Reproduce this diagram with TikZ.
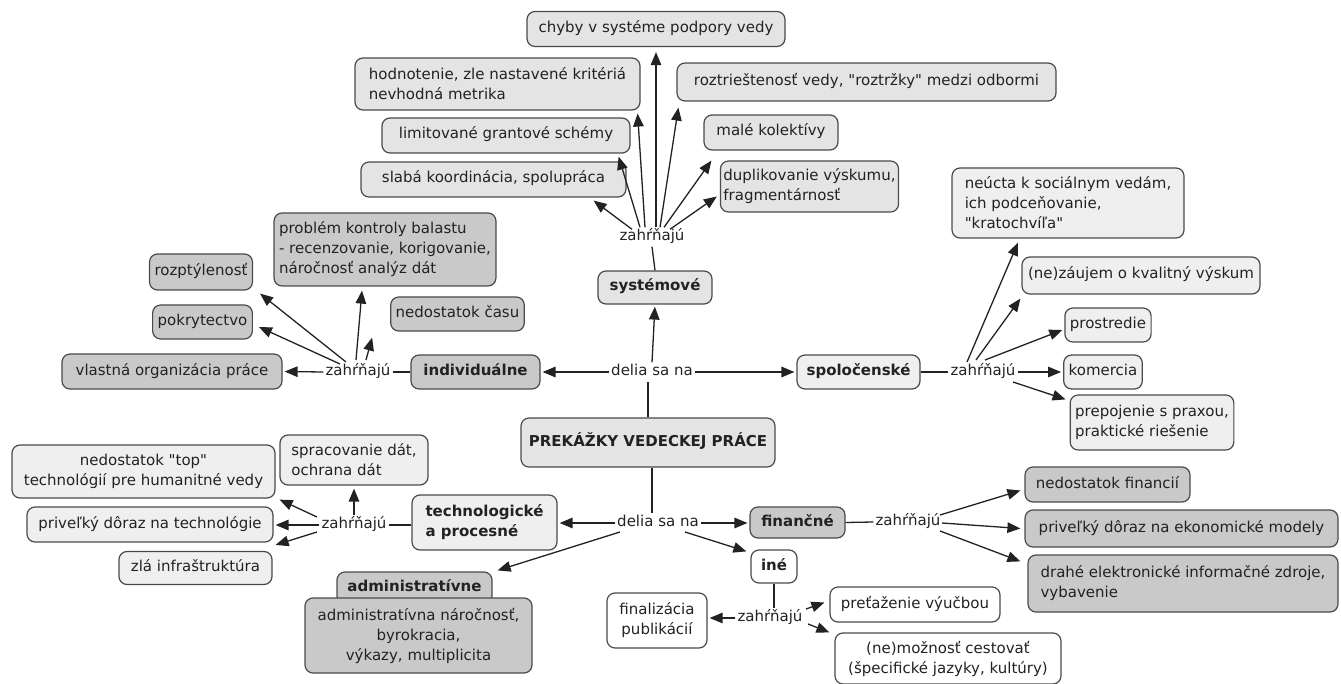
\documentclass[tikz,border=0pt]{standalone}
\usepackage{fontspec}
\setmainfont{DejaVu Sans}[Ligatures=TeXOff]
\usetikzlibrary{arrows.meta,calc}
\definecolor{dkfill}{HTML}{C9C9C9}
\definecolor{sysfill}{HTML}{E4E4E4}
\definecolor{ltfill}{HTML}{EFEFEF}
\definecolor{bord}{HTML}{4A4A4A}
\definecolor{lnc}{HTML}{222222}
\begin{document}
\begin{tikzpicture}[x=1pt,y=-1pt,
  box/.style={draw=bord,line width=1.2pt,rounded corners=8pt,inner xsep=5pt,inner ysep=4pt,
    font=\fontsize{15}{20}\selectfont,text=lnc,text height=11pt,text depth=4pt},
  ml/.style={text height=,text depth=},
  dk/.style={box,fill=dkfill},
  sy/.style={box,fill=sysfill},
  lt/.style={box,fill=ltfill},
  wh/.style={box,fill=white},
  bf/.style={font=\fontsize{15}{20}\selectfont\bfseries},
  lbl/.style={inner sep=2pt,font=\fontsize{15}{20}\selectfont,text=lnc,text height=11pt,text depth=4pt},
  conn/.style={draw=lnc,line width=1.3pt},
  arr/.style={conn,-{Triangle[length=13pt,width=10.5pt]}}
]
\useasboundingbox (0,0) rectangle (1341,684);

% ---------- systemove cluster ----------
\node[sy,minimum width=258pt,minimum height=35pt] (chy) at (656,29) {chyby v systéme podpory vedy};
\node[sy,ml,minimum width=285pt,minimum height=52pt,align=left] (hod) at (497.5,84) {hodnotenie, zle nastavené kritériá\\nevhodná metrika};
\node[sy,minimum width=379pt,minimum height=38pt] (roz) at (866.5,82) {roztrieštenosť vedy, "roztržky" medzi odbormi};
\node[sy,minimum width=248pt,minimum height=35pt] (lim) at (506,135.5) {limitované grantové schémy};
\node[sy,minimum width=134pt,minimum height=35pt] (mal) at (771,132.5) {malé kolektívy};
\node[sy,minimum width=265pt,minimum height=35pt] (sla) at (493.5,179.5) {slabá koordinácia, spolupráca};
\node[sy,ml,inner xsep=3pt,minimum width=173pt,minimum height=51pt,align=left] (dup) at (809.5,186.5) {duplikovanie výskumu,\\fragmentárnosť};
\node[lbl] (zs) at (652,237) {zahŕňajú};
\node[sy,bf,minimum width=114pt,minimum height=33pt] (sys) at (655,287.5) {systémové};

% ---------- center ----------
\node[lbl] (dt) at (652,372) {delia sa na};
\node[sy,bf,minimum width=254pt,minimum height=49pt] (pk) at (648,442.5) {PREKÁŽKY VEDECKEJ PRÁCE};
\node[lbl] (db) at (658,523) {delia sa na};

% ---------- individualne ----------
\node[dk,bf,minimum width=129pt,minimum height=34pt] (ind) at (475.5,372) {individuálne};
\node[lbl] (zi) at (358,372) {zahŕňajú};
\node[dk,minimum width=220pt,minimum height=35pt] (vla) at (172,371.5) {vlastná organizácia práce};
\node[dk,minimum width=95pt,minimum height=34pt] (pok) at (202.5,322) {pokrytectvo};
\node[dk,minimum width=98pt,minimum height=36pt] (rzp) at (201,272) {rozptýlenosť};
\node[dk,ml,minimum width=210pt,minimum height=73pt,align=left] (prb) at (385,249.5) {problém kontroly balastu\\- recenzovanie, korigovanie,\\náročnosť analýz dát};
\node[dk,minimum width=109pt,minimum height=34pt] (ndc) at (457.5,314) {nedostatok času};

% ---------- spolocenske ----------
\node[lt,bf,minimum width=123pt,minimum height=34pt] (spo) at (858.5,372) {spoločenské};
\node[lbl] (zsp) at (983,372) {zahŕňajú};
\node[lt,ml,minimum width=232pt,minimum height=70pt,align=left] (neu) at (1068,203) {neúcta k sociálnym vedám,\\ich podceňovanie,\\"kratochvíľa"};
\node[lt,minimum width=238pt,minimum height=37pt] (zau) at (1141,275.5) {(ne)záujem o kvalitný výskum};
\node[lt,minimum width=76pt,minimum height=34pt] (pro) at (1108,325) {prostredie};
\node[lt,minimum width=66pt,minimum height=34pt] (kom) at (1103,372) {komercia};
\node[lt,ml,minimum width=158pt,minimum height=55pt,align=left] (pre) at (1152,422.5) {prepojenie s praxou,\\praktické riešenie};

% ---------- technologicke ----------
\node[lt,bf,ml,minimum width=145pt,minimum height=55pt,align=left] (tec) at (484.5,522.5) {technologické\\a procesné};
\node[lbl] (zt) at (354,525) {zahŕňajú};
\node[lt,ml,minimum width=148pt,minimum height=50pt,align=left] (spr) at (354,460) {spracovanie dát,\\ochrana dát};
\node[lt,ml,minimum width=263pt,minimum height=53pt,align=center] (top) at (143.5,471.5) {nedostatok "top"\\technológií pre humanitné vedy};
\node[lt,minimum width=246pt,minimum height=35pt] (ptk) at (150,524.5) {priveľký dôraz na technológie};
\node[lt,minimum width=153pt,minimum height=33pt] (zla) at (195.5,568) {zlá infraštruktúra};

% ---------- administrativne ----------
\node[dk,bf,minimum width=155pt,minimum height=32pt] (admh) at (414.5,588) {administratívne};
\node[dk,ml,minimum width=227pt,minimum height=75pt,align=center] (adm) at (418.5,635.5) {administratívna náročnosť,\\byrokracia,\\výkazy, multiplicita};

% ---------- financne ----------
\node[dk,bf,minimum width=95pt,minimum height=31pt] (fin) at (797.5,522.5) {finančné};
\node[lbl] (zf) at (908,522) {zahŕňajú};
\node[dk,minimum width=165pt,minimum height=35pt] (nf) at (1107.5,484.5) {nedostatok financií};
\node[dk,minimum width=313pt,minimum height=37pt] (pe) at (1181.5,528.5) {priveľký dôraz na ekonomické modely};
\node[dk,ml,minimum width=310pt,minimum height=57pt,align=left] (dr) at (1183,583.5) {drahé elektronické informačné zdroje,\\vybavenie};

% ---------- ine ----------
\node[wh,bf,minimum width=46pt,minimum height=33pt] (ine) at (774,566.5) {iné};
\node[lbl] (zn) at (770,618) {zahŕňajú};
\node[wh,ml,minimum width=100pt,minimum height=55pt,align=center] (fp) at (657,620.5) {finalizácia\\publikácií};
\node[wh,minimum width=170pt,minimum height=35pt] (pv) at (915,604.5) {preťaženie výučbou};
\node[wh,ml,minimum width=226pt,minimum height=51pt,align=center] (nm) at (948,658.5) {(ne)možnosť cestovať\\(špecifické jazyky, kultúry)};

% ---------- connectors: center ----------
\draw[conn] (pk.north) -- (pk.north |- dt.south);
\draw[arr,shorten >=2pt] (dt.north) -- (sys.south);
\draw[arr,shorten >=2pt] (dt.west) -- (ind.east);
\draw[arr,shorten >=2pt] (dt.east) -- (spo.west);
\draw[conn] ($(pk.south)+(4,0)$) -- ($(pk.south |- db.north)+(4,0)$);
\draw[arr,shorten >=2pt] (db.west) -- (db.west -| tec.east);
\draw[arr,shorten >=2pt] (db.east) -- (db.east -| fin.west);
\draw[arr] ($(db)+(27,9)$) -- ($(ine.north west)+(-4,2)$);
\draw[arr] ($(db)+(-38,9)$) -- ($(admh.north east)+(5,-1)$);

% ---------- systemove fan ----------
\draw[conn] (sys.north) -- (zs.south);
\draw[arr] ($(zs.north)+(4,0)$) -- ($(chy.south)+(0,5)$);
\draw[arr] ($(zs.north)+(-7,0)$) -- ($(hod.south east)+(-3,3)$);
\draw[arr] ($(zs.north)+(8,0)$) -- ($(roz.south west)+(2,6)$);
\draw[arr] ($(zs.north)+(-12,0)$) -- ($(lim.south east)+(-12,3)$);
\draw[arr] ($(zs.north)+(12,0)$) -- ($(mal.south west)+(8,10)$);
\draw[arr] ($(zs.north)+(-20,2)$) -- ($(sla.south east)+(-33,3)$);
\draw[arr] ($(zs.north)+(18,2)$) -- ($(dup.west)+(-3,10)$);

% ---------- individualne fan ----------
\draw[conn] (ind.west) -- (zi.east);
\draw[arr,shorten >=2pt] (zi.west) -- (vla.east);
\draw[arr] ($(zi)+(-18,-8)$) -- ($(pok.east)+(6,5)$);
\draw[arr] ($(zi)+(-12,-10)$) -- ($(rzp.south east)+(7,3)$);
\draw[arr] ($(zi)+(-2,-12)$) -- ($(prb.south)+(-23,4)$);
\draw[arr] ($(zi)+(8,-12)$) -- ($(ndc.south west)+(-18,6)$);

% ---------- spolocenske fan ----------
\draw[conn] (spo.east) -- (zsp.west);
\draw[arr] ($(zsp)+(-16,-10)$) -- ($(neu.south)+(-50,4)$);
\draw[arr] ($(zsp)+(-7,-12)$) -- ($(zau.south west)+(-1,4)$);
\draw[arr] ($(zsp)+(2,-12)$) -- ($(pro.west)+(-2,5)$);
\draw[arr,shorten >=2pt] (zsp.east) -- (kom.west);
\draw[arr] ($(zsp)+(30,10)$) -- ($(pre.north west)+(-4,5)$);

% ---------- technologicke fan ----------
\draw[conn] (zt.east) -- (zt.east -| tec.west);
\draw[arr,shorten >=3pt] (zt.north) -- (zt.north |- spr.south);
\draw[arr] ($(zt)+(-37,-8)$) -- ($(top.south east)+(4,1)$);
\draw[arr,shorten >=2pt] (zt.west) -- (zt.west -| ptk.east);
\draw[arr] ($(zt)+(-37,7)$) -- ($(zla.north east)+(3,-6)$);

% ---------- financne fan ----------
\draw[conn] (fin.east) -- (zf.west);
\draw[arr] ($(zf)+(32,-7)$) -- ($(nf.west)+(-4,6)$);
\draw[arr] ($(zf)+(34,1)$) -- ($(pe.west)+(-4,0)$);
\draw[arr] ($(zf)+(32,9)$) -- ($(dr.north west)+(-7,7)$);

% ---------- ine fan ----------
\draw[conn] (ine.south) -- (ine.south |- zn.north);
\draw[arr,shorten >=2pt] (zn.west) -- (zn.west -| fp.east);
\draw[arr] ($(zn)+(36,-9)$) -- ($(pv.west)+(-5,-2)$);
\draw[arr] ($(zn)+(38,6)$) -- ($(nm.north west)+(-5,0)$);
\end{tikzpicture}
\end{document}
